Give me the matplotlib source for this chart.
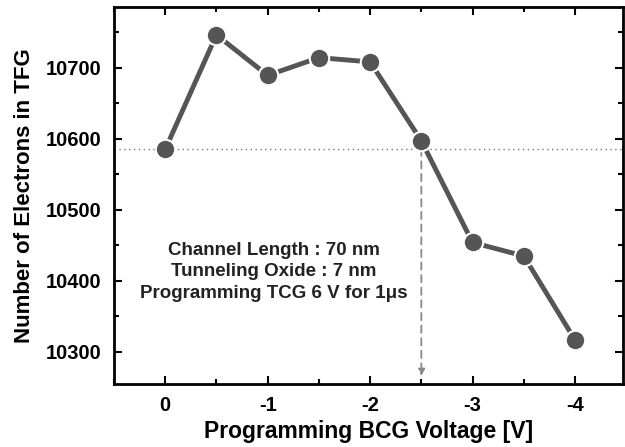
import matplotlib
matplotlib.use("Agg")
from matplotlib import pyplot as plt
from matplotlib.ticker import MultipleLocator

# data
bcg_voltage = [0, -0.5, -1, -1.5, -2, -2.5, -3, -3.5, -4]
electrons = [10585, 10746, 10689, 10714, 10708, 10597, 10454, 10435, 10317]
ref_level = 10586
ref_voltage = -2.5

plt.rcParams['font.family'] = ['Liberation Sans', 'DejaVu Sans']
plt.rcParams['font.weight'] = 'bold'

fig = plt.figure(figsize=(6.25, 4.47), dpi=100)
ax = fig.add_axes([0.1824, 0.141, 0.8146, 0.843])

ax.axhline(ref_level, color='#777777', lw=1, ls=(0, (1, 2.5)), zorder=1)
ax.annotate('', xy=(ref_voltage, 10266), xytext=(ref_voltage, ref_level),
            arrowprops=dict(arrowstyle='-|>', color='#888888', lw=1.3,
                            ls=(0, (4, 3)), mutation_scale=10, shrinkA=0, shrinkB=0),
            zorder=1)

ax.plot(bcg_voltage, electrons, color='#555555', lw=3.5, marker='o', ms=14,
        mfc='#555555', mec='white', mew=1.5, zorder=3)

ax.text(-1.06, 10413, 'Channel Length : 70 nm\nTunneling Oxide : 7 nm\nProgramming TCG 6 V for 1\u03bcs',
        ha='center', va='center', fontsize=13.5, fontweight='bold', linespacing=1.35,
        color='#222222')

ax.set_xlim(0.5, -4.47)
ax.set_ylim(10255, 10785)
ax.set_xticks([0, -1, -2, -3, -4])
ax.set_xticklabels(['0', '-1', '-2', '-3', '-4'])
ax.xaxis.set_minor_locator(MultipleLocator(0.5))
ax.set_yticks([10300, 10400, 10500, 10600, 10700])
ax.yaxis.set_minor_locator(MultipleLocator(50))
ax.tick_params(which='both', direction='in', top=True, right=True, width=1.5)
ax.tick_params(which='major', length=6, labelsize=14.5, pad=9)
ax.tick_params(which='minor', length=3.5)
for lab in ax.get_xticklabels() + ax.get_yticklabels():
    lab.set_fontweight('bold')
for s in ax.spines.values():
    s.set_linewidth(2)

ax.set_xlabel('Programming BCG Voltage [V]', fontsize=16.5, fontweight='bold', labelpad=3)
ax.set_ylabel('Number of Electrons in TFG', fontsize=16, fontweight='bold', labelpad=8)

fig.savefig('out.png', dpi=100)
